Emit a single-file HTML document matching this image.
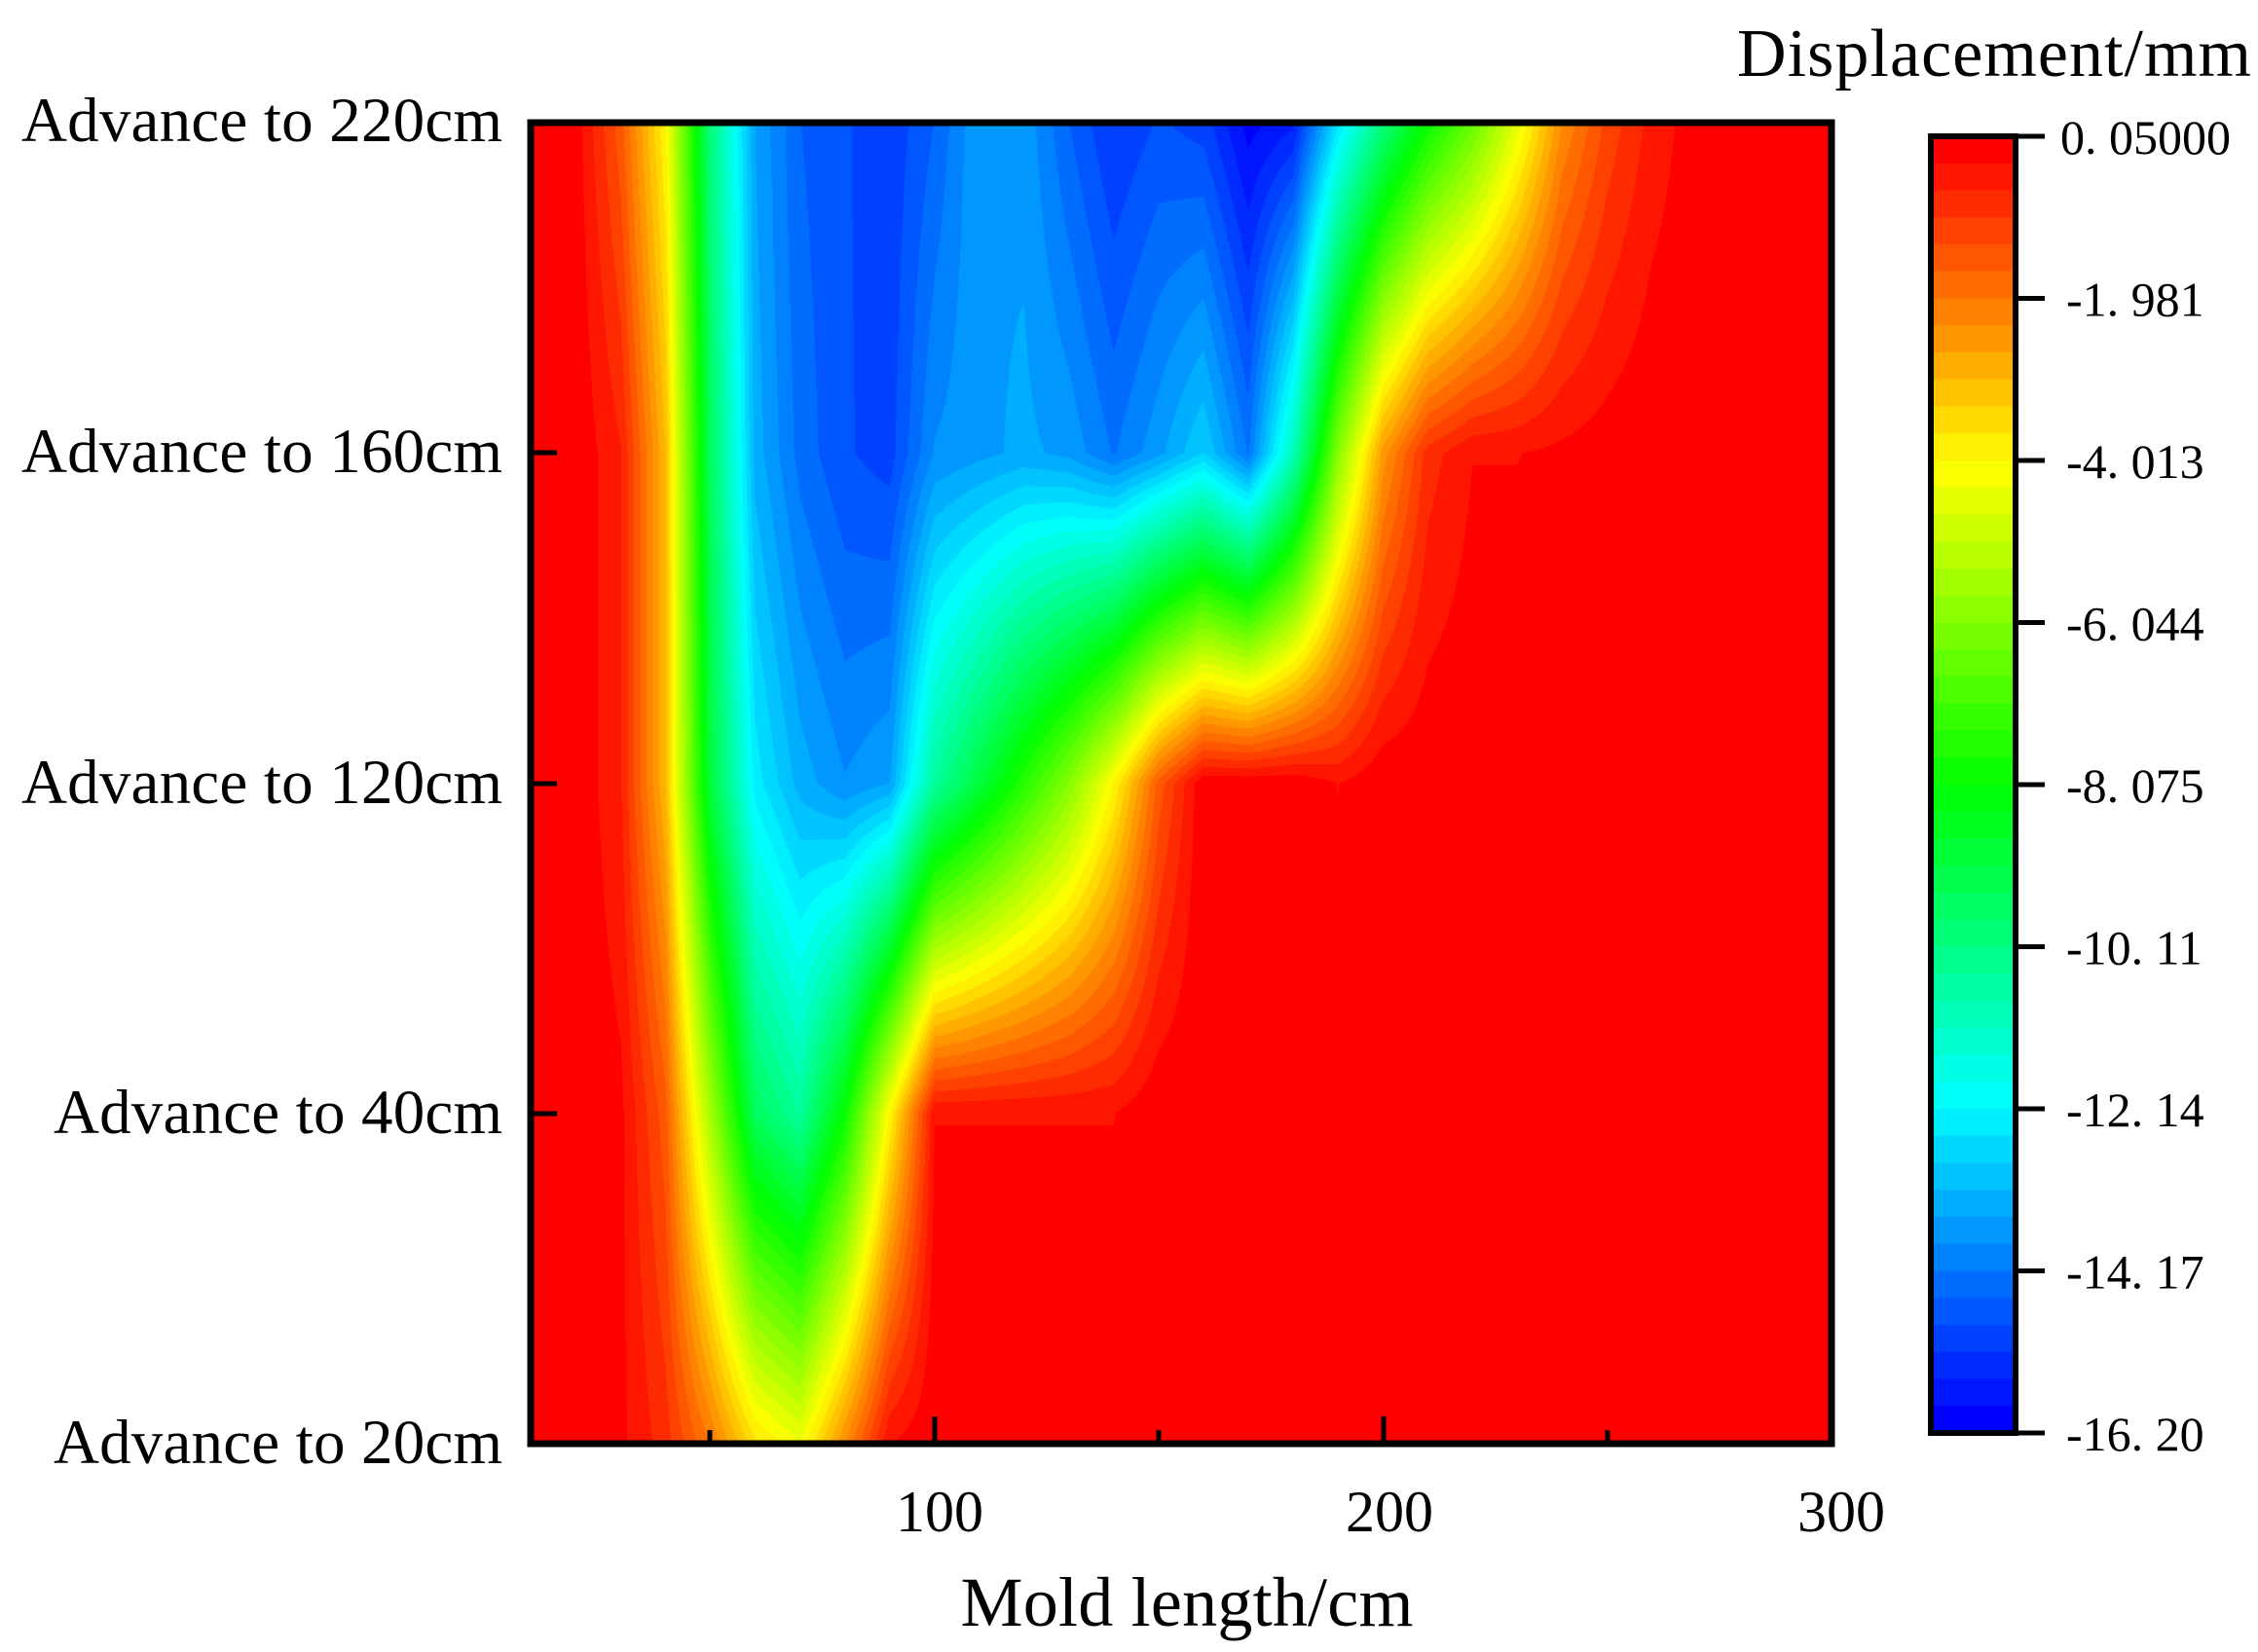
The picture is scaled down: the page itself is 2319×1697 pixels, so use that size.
<!DOCTYPE html>
<html><head><meta charset="utf-8">
<style>
html,body{margin:0;padding:0;background:#fff;}
body{width:2319px;height:1697px;position:relative;overflow:hidden;font-family:"Liberation Serif",serif;}
canvas{position:absolute;left:0;top:0;}
svg{position:absolute;left:0;top:0;}
</style></head><body>
<canvas id="c" width="2319" height="1697"></canvas>
<svg width="2319" height="1697" xmlns="http://www.w3.org/2000/svg" font-family="Liberation Serif, serif">
<rect x="545" y="126" width="1336" height="1357" fill="none" stroke="#000" stroke-width="7"/>
<g stroke="#000" stroke-width="5">
<line x1="545" y1="465" x2="572" y2="465"/><line x1="545" y1="805" x2="572" y2="805"/><line x1="545" y1="1144" x2="572" y2="1144"/>
<line x1="960" y1="1483" x2="960" y2="1455"/><line x1="1421" y1="1483" x2="1421" y2="1455"/>
<line x1="729" y1="1483" x2="729" y2="1469"/><line x1="1190" y1="1483" x2="1190" y2="1469"/><line x1="1651" y1="1483" x2="1651" y2="1469"/>
</g>
<g font-size="65" text-anchor="end" fill="#000">
<text x="516" y="145" textLength="494">Advance to 220cm</text>
<text x="516" y="485" textLength="494">Advance to 160cm</text>
<text x="516" y="825" textLength="494">Advance to 120cm</text>
<text x="516" y="1164" textLength="461">Advance to 40cm</text>
<text x="516" y="1503" textLength="461">Advance to 20cm</text>
</g>
<g font-size="60" text-anchor="middle" fill="#000">
<text x="965" y="1573">100</text><text x="1427" y="1573">200</text><text x="1891" y="1573">300</text>
</g>
<text x="1219" y="1670" font-size="72" text-anchor="middle" textLength="465">Mold length/cm</text>
<text x="1784" y="78" font-size="70" textLength="528">Displacement/mm</text>
<rect x="1983" y="140" width="87" height="1332" fill="none" stroke="#000" stroke-width="6"/>
<g stroke="#000" stroke-width="5" id="cbt"></g>
<g font-size="50" fill="#000" id="cbl"></g>
</svg>
<script>
var c=document.getElementById('c').getContext('2d');
function col(i){var s=i*4/47,r,g,b;
if(s<=1){r=255;g=255*s;b=0;}else if(s<=2){r=255*(2-s);g=255;b=0;}else if(s<=3){r=0;g=255;b=255*(s-2);}else{r=0;g=255*(4-s);b=255;}
return [Math.round(r),Math.round(g),Math.round(b)];}
var rows=[
{30:-0.2,40:-0.8,50:-2,60:-3.6,70:-4.3,80:-2.3,90:-0.3},
{30:-0.2,40:-1.5,50:-5.5,60:-9.5,70:-10.5,80:-8,90:-4,100:-0.3,110:-0.3,120:-0.3,130:-0.3,140:-0.3},
{30:-0.6,40:-3,50:-9,60:-12.3,70:-13.3,80:-13.8,90:-13.5,100:-10.5,110:-9,120:-7.5,130:-6,140:-4,150:-1.5,160:0,170:0,180:0,190:-0.3},
{30:-0.6,40:-3,50:-9.5,60:-13.3,70:-14.3,80:-14.8,90:-15,100:-13.8,110:-13.6,120:-13.4,130:-13.6,140:-14.2,150:-13.6,160:-12.8,170:-14.2,180:-11,190:-6,200:-2.5,210:-0.8,220:-0.3,230:-0.3,240:-0.2,250:-0.1},
{20:-0.1,30:-1.5,40:-4,50:-10,60:-13.5,70:-14.5,80:-14.8,90:-15.1,100:-14.5,110:-13.5,120:-13.6,130:-14.5,140:-15.2,150:-14.8,160:-15,170:-16,180:-15.6,190:-12.5,200:-10,210:-8,220:-6.5,230:-4.5,240:-2.3,250:-1.2,260:-0.5,270:-0.1}];
var G=rows.map(function(r){var a=[];for(var k=0;k<30;k++){var x=10+k*10;a.push(r[x]!==undefined?r[x]:0);}return a;});
var X0=545,Y0=126,W=1336,H=1357,bw=(0.05+16.2)/48;
var img=c.createImageData(W,H),d=img.data;
var cols=[];for(var i=0;i<48;i++)cols.push(col(i));
for(var py=0;py<H;py++){var t=(H-1-py)/(H-1)*4;var j=Math.min(3,Math.floor(t)),ft=t-j;
for(var px=0;px<W;px++){var xv=10+px/(W-1)*290;var u=(xv-10)/10;var k=Math.min(28,Math.floor(u)),fu=u-k;
var z=(G[j][k]*(1-fu)+G[j][k+1]*fu)*(1-ft)+(G[j+1][k]*(1-fu)+G[j+1][k+1]*fu)*ft;
var b=Math.floor((0.05-z)/bw);if(b<0)b=0;if(b>47)b=47;var cc=cols[b],o=(py*W+px)*4;
d[o]=cc[0];d[o+1]=cc[1];d[o+2]=cc[2];d[o+3]=255;}}
c.putImageData(img,X0,Y0);
var ch=(1472-140)/48;
for(var i=0;i<48;i++){var cc=cols[i];c.fillStyle='rgb('+cc+')';c.fillRect(1983,140+i*ch,87,ch+1);}
var labs=['0. 05000','-1. 981','-4. 013','-6. 044','-8. 075','-10. 11','-12. 14','-14. 17','-16. 20'];
var ns='http://www.w3.org/2000/svg',gt=document.getElementById('cbt'),gl=document.getElementById('cbl');
for(var k=0;k<9;k++){var y=140+k*166.5;
var l=document.createElementNS(ns,'line');l.setAttribute('x1',2070);l.setAttribute('x2',2100);l.setAttribute('y1',y);l.setAttribute('y2',y);gt.appendChild(l);
var tx=document.createElementNS(ns,'text');tx.setAttribute('x',k==0?2116:2122);tx.setAttribute('y',y+18);tx.textContent=labs[k];gl.appendChild(tx);}
</script>
</body></html>
